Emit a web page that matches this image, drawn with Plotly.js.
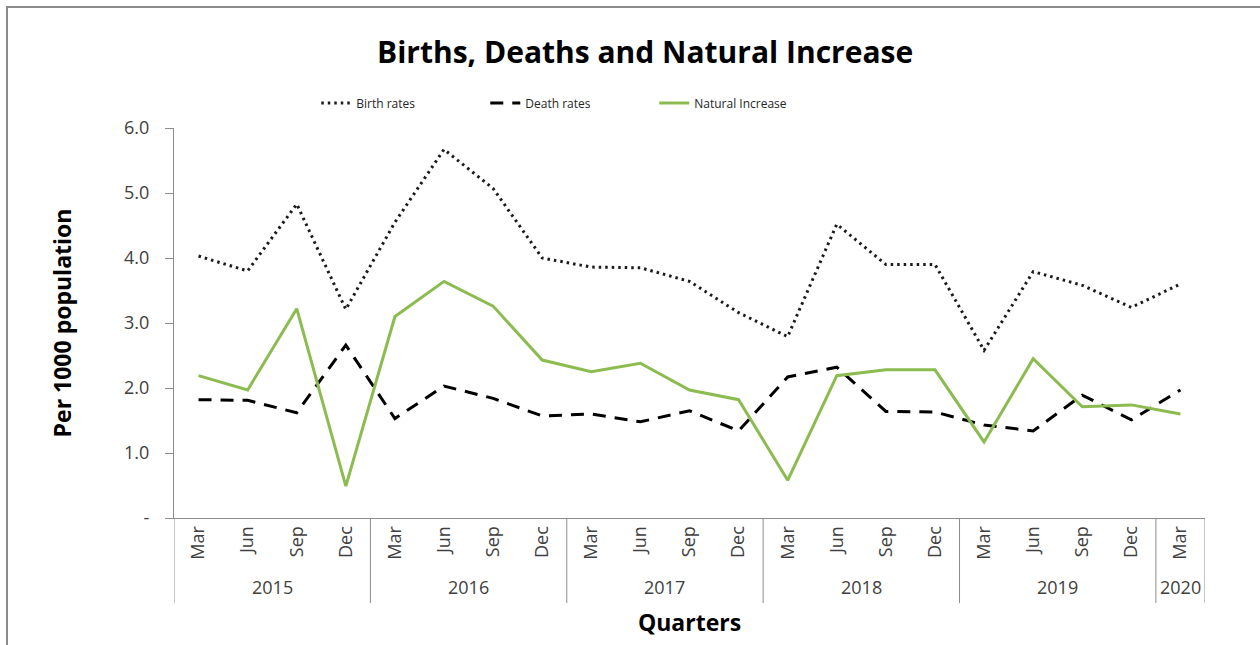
<!DOCTYPE html>
<html>
<head>
<meta charset="utf-8">
<script src="https://cdn.plot.ly/plotly-3.0.1.min.js"></script>
<style>
  html, body { margin: 0; padding: 0; background: #fff; }
  #wrap { position: relative; width: 1260px; height: 645px; overflow: hidden; }
  #chart { position: absolute; left: 0; top: 0; width: 1260px; height: 645px; }
  #frame { position: absolute; left: 6px; top: 6px; width: 1300px; height: 700px;
           border-left: 2px solid #8c8c8c; border-top: 2px solid #8c8c8c; pointer-events: none; }
</style>
</head>
<body>
<div id="wrap">
  <div id="chart"></div>
  <div id="frame"></div>
</div>
<script>
// ---- data ----
const years = ["2015","2015","2015","2015","2016","2016","2016","2016","2017","2017","2017","2017",
               "2018","2018","2018","2018","2019","2019","2019","2019","2020"];
const quarters = ["Mar","Jun","Sep","Dec","Mar","Jun","Sep","Dec","Mar","Jun","Sep","Dec",
                  "Mar","Jun","Sep","Dec","Mar","Jun","Sep","Dec","Mar"];
const birthRates = [4.03, 3.80, 4.83, 3.21, 4.55, 5.67, 5.07, 4.00, 3.86, 3.85, 3.64, 3.16,
                    2.79, 4.52, 3.90, 3.90, 2.58, 3.79, 3.58, 3.24, 3.60];
const deathRates = [1.82, 1.81, 1.62, 2.66, 1.53, 2.03, 1.84, 1.57, 1.60, 1.48, 1.65, 1.34,
                    2.17, 2.32, 1.64, 1.63, 1.43, 1.34, 1.89, 1.51, 1.97];
const naturalIncrease = [2.19, 1.97, 3.22, 0.49, 3.10, 3.64, 3.26, 2.43, 2.25, 2.38, 1.97, 1.82,
                         0.58, 2.19, 2.28, 2.28, 1.17, 2.45, 1.71, 1.74, 1.60];
const yTickVals = [0, 1, 2, 3, 4, 5, 6];
const yTickText = ["-", "1.0", "2.0", "3.0", "4.0", "5.0", "6.0"];

const FONT = "'Open Sans', sans-serif";
const idx = quarters.map((q, i) => i);

// year groups (derived from the years array)
const groups = [];
years.forEach((y, i) => {
  if (!groups.length || groups[groups.length - 1].year !== y) groups.push({ year: y, start: i, end: i });
  else groups[groups.length - 1].end = i;
});

const LINEC = "#8c8c8c";
const DIV_BOTTOM = -0.218;

const shapes = [];
const bounds = [groups[0].start - 0.5].concat(groups.map(g => g.end + 0.5));
bounds.forEach(b => shapes.push({
  type: "line", xref: "x", yref: "paper", x0: b, x1: b, y0: 0, y1: DIV_BOTTOM,
  line: { color: LINEC, width: 1 }
}));

const annotations = groups.map(g => ({
  text: g.year, xref: "x", yref: "paper", x: (g.start + g.end) / 2, y: -0.177,
  xanchor: "center", yanchor: "middle", showarrow: false,
  font: { family: FONT, size: 18, color: "#404040" }
}));

const traces = [
  { x: idx, y: birthRates, name: "Birth rates", type: "scatter", mode: "lines",
    line: { color: "#1a1a1a", width: 3, dash: "2.5px,4px" } },
  { x: idx, y: deathRates, name: "Death rates", type: "scatter", mode: "lines",
    line: { color: "#000000", width: 3, dash: "13px,9px" } },
  { x: idx, y: naturalIncrease, name: "Natural Increase", type: "scatter", mode: "lines",
    line: { color: "#8cbb4f", width: 3 } }
];

const layout = {
  width: 1260, height: 645,
  margin: { l: 174, r: 55, t: 128, b: 127 },
  paper_bgcolor: "#ffffff", plot_bgcolor: "#ffffff",
  font: { family: FONT, color: "#404040", size: 15 },
  title: { text: "<b>Births, Deaths and Natural Increase</b>",
           font: { family: FONT, size: 30, color: "#000000" },
           x: 0.512, xanchor: "center", y: 0.918, yanchor: "middle" },
  showlegend: true,
  legend: { orientation: "h", x: 0.138, xanchor: "left", y: 1.064, yanchor: "middle",
            font: { family: FONT, size: 12, color: "#262626" },
            entrywidth: 124, entrywidthmode: "pixels", bgcolor: "rgba(0,0,0,0)" },
  xaxis: { type: "linear", range: [-0.5, quarters.length - 0.5],
           tickmode: "array", tickvals: idx, ticktext: quarters,
           showgrid: false, zeroline: false,
           showline: true, linecolor: LINEC, linewidth: 1,
           ticks: "", tickangle: -90,
           tickfont: { family: FONT, size: 18, color: "#404040" },
           title: { text: "<b>Quarters</b>", font: { family: FONT, size: 23, color: "#000000" }, standoff: 56 } },
  yaxis: { range: [0, 6], tickvals: yTickVals, ticktext: yTickText,
           showgrid: false, zeroline: false, showline: true, linecolor: LINEC, linewidth: 1,
           ticks: "outside", ticklen: 8, tickcolor: LINEC, ticklabelstandoff: 12,
           tickfont: { family: FONT, size: 18, color: "#404040" },
           title: { text: "<b>Per 1000 population</b>", font: { family: FONT, size: 23, color: "#000000" }, standoff: 46 } },
  shapes: shapes,
  annotations: annotations
};

Plotly.newPlot("chart", traces, layout, { displayModeBar: false, staticPlot: true });
</script>
</body>
</html>
